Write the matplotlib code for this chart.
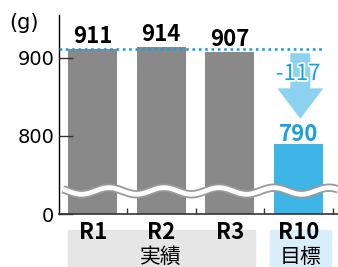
import matplotlib
matplotlib.use('Agg')
import matplotlib.pyplot as plt
from matplotlib.patches import Polygon, Rectangle
import matplotlib.patheffects as pe
import numpy as np

# Data
categories = ['R1', 'R2', 'R3', 'R10']
values = [911, 914, 907, 790]
groups = ['実績', '目標']
diff_label = '-117'
ref_level = 911

gray = '#898989'
blue = '#3db5e6'
arrow_blue = '#8dd2f0'
text_blue = '#1a9fe0'

plt.rcParams['font.family'] = ['Liberation Sans Narrow', 'DejaVu Sans Condensed', 'Noto Sans CJK JP']

fig = plt.figure(figsize=(3.38, 2.67), dpi=100)
ax = fig.add_axes([58.5 / 338, 53 / 267, (338 - 58.5) / 338, 199 / 267])

x = np.arange(len(categories))
colors = [gray, gray, gray, blue]
ax.bar(x, values, width=0.715, color=colors, zorder=2)

# Value labels
for xi, v, c in zip(x, values, colors):
    col = 'black' if c == gray else text_blue
    off = 4.5 if c == gray else 2.2
    ax.annotate(str(v), (xi, v), xytext=(0, off), textcoords='offset points',
                ha='center', va='baseline', fontsize=16, fontweight='bold',
                color=col, zorder=5)

# Reference dotted line
ax.plot([-0.5, 3.36], [ref_level, ref_level], color=text_blue, lw=1.9,
        linestyle=(0, (1, 1.4)), dash_capstyle='butt', zorder=3)

# Arrow showing reduction
xa = 3.03
arrow = Polygon([[xa - 0.146, 906], [xa + 0.146, 906], [xa + 0.146, 861],
                 [xa + 0.336, 861], [xa, 822], [xa - 0.336, 861],
                 [xa - 0.146, 861]], closed=True, color=arrow_blue, lw=0, zorder=3)
ax.add_patch(arrow)
ax.text(3.0, 880, diff_label, ha='center', va='center', fontsize=16,
        color=text_blue, zorder=6,
        path_effects=[pe.withStroke(linewidth=2.5, foreground='white')])

# Axis break wave
px = np.linspace(63, 338, 400)
py = 191 - 3.3 * np.cos(2 * np.pi * (px - 109) / 55)
wx = (px - 58.5) / 68.5 - 0.5
wy = 700 + (214 - py) / 0.78
ax.plot(wx, wy, color='#9a9a9a', lw=6.0, solid_capstyle='butt', zorder=4)
ax.plot(wx, wy, color='white', lw=3.4, solid_capstyle='butt', zorder=4)

# Axes styling
ax.set_xlim(-0.5, 3.58)
ax.set_ylim(700, 955)
ax.set_yticks([700, 800, 900])
ax.set_yticklabels(['0', '800', '900'], family=['DejaVu Sans'], fontsize=14)
ax.tick_params(axis='y', direction='in', length=10, width=1, pad=3, color='#333333')
ax.set_xticks(x)
ax.set_xticklabels(categories, fontsize=16, fontweight='bold')
ax.tick_params(axis='x', which='major', length=0, pad=5)
ax.set_xticks([0.5, 1.5, 2.5, 3.5], minor=True)
ax.tick_params(axis='x', which='minor', direction='in', length=4, width=1, color='#333333')
for s in ['top', 'right']:
    ax.spines[s].set_visible(False)
ax.spines['left'].set_linewidth(1)
ax.spines['bottom'].set_linewidth(1.2)
ax.spines['bottom'].set_color('#333333')
ax.set_axisbelow(False)

# Group boxes under the x labels
trans = ax.get_xaxis_transform()
ax.add_patch(Rectangle((-0.361, -0.27), 2.73, 0.19, transform=trans,
                       color='#e6e6e6', clip_on=False, zorder=0))
ax.add_patch(Rectangle((2.588, -0.27), 0.89, 0.19, transform=trans,
                       color='#d8eefa', clip_on=False, zorder=0))
ax.text(1.0, -0.218, groups[0], transform=trans, ha='center', va='center',
        fontsize=15, family=['Noto Sans CJK JP'])
ax.text(3.03, -0.218, groups[1], transform=trans, ha='center', va='center',
        fontsize=15, family=['Noto Sans CJK JP'])

fig.text(24 / 338, 1 - 23 / 267, '(g)', ha='center', va='center', fontsize=15,
         family=['DejaVu Sans'])

fig.savefig('out.png', dpi=100)
